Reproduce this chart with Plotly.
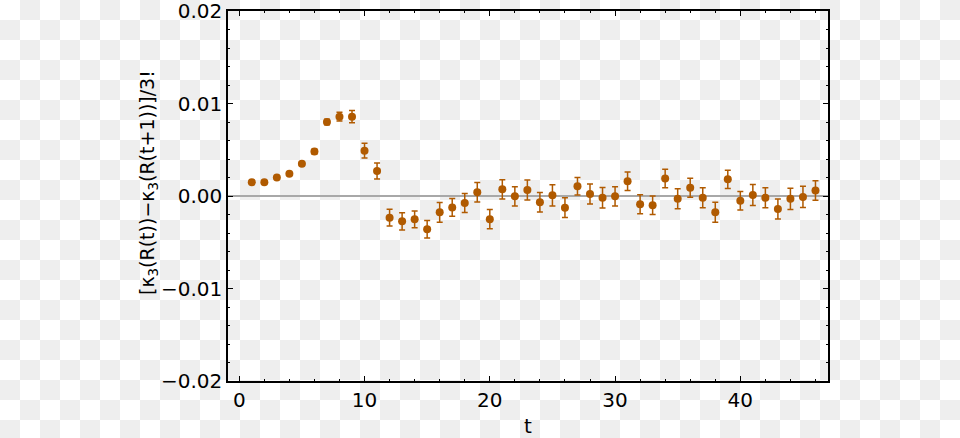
import base64
import plotly.graph_objects as go

# kappa_3 difference per step t
t_vals = list(range(1, 47))
kappa_diff = [
    0.00148, 0.00150, 0.00200, 0.00240, 0.00350, 0.00480, 0.00800, 0.00858,
    0.00858, 0.00490, 0.00270, -0.00234, -0.00274, -0.00252, -0.00360, -0.00177,
    -0.00123, -0.00076, 0.00040, -0.00250, 0.00072, -0.00004, 0.00065, -0.00068,
    0.00007, -0.00126, 0.00105, 0.00022, -0.00018, -0.00004, 0.00160, -0.00090,
    -0.00100, 0.00190, -0.00030, 0.00090, -0.00020, -0.00175, 0.00180, -0.00050,
    0.00010, -0.00020, -0.00140, -0.00030, -0.00010, 0.00060,
]
kappa_err = [
    0.00010, 0.00010, 0.00012, 0.00015, 0.00020, 0.00025, 0.00030, 0.00047,
    0.00065, 0.00080, 0.00087, 0.00090, 0.00094, 0.00090, 0.00095, 0.00108,
    0.00095, 0.00103, 0.00105, 0.00103, 0.00105, 0.00105, 0.00108, 0.00106,
    0.00115, 0.00106, 0.00095, 0.00108, 0.00111, 0.00103, 0.00100, 0.00103,
    0.00099, 0.00100, 0.00108, 0.00103, 0.00108, 0.00108, 0.00099, 0.00100,
    0.00113, 0.00108, 0.00108, 0.00115, 0.00115, 0.00106,
]

y_ticks = [-0.02, -0.01, 0.0, 0.01, 0.02]
y_tick_labels = ["\u22120.02", "\u22120.01", "0.00", "0.01", "0.02"]
x_ticks = [0, 10, 20, 30, 40]
y_title = "[\u03ba<sub>3</sub>(R(t))\u2212\u03ba<sub>3</sub>(R(t+1))]/3!"

W, H = 960, 438
L, R, T, B = 228, 132, 11, 57
PW, PH = W - L - R, H - T - B

# faint transparency checkerboard behind everything
svg = (
    f'<svg xmlns="http://www.w3.org/2000/svg" width="{W}" height="{H}">'
    '<defs><pattern id="c" width="40" height="40" patternUnits="userSpaceOnUse">'
    '<rect width="40" height="40" fill="#ffffff"/>'
    '<rect x="20" y="0" width="20" height="20" fill="#eeeeee"/>'
    '<rect x="0" y="20" width="20" height="20" fill="#eeeeee"/>'
    '</pattern></defs>'
    f'<rect width="{W}" height="{H}" fill="url(#c)"/></svg>'
)
bg_uri = "data:image/svg+xml;base64," + base64.b64encode(svg.encode()).decode()

color = "#b05a00"
font = "DejaVu Sans, sans-serif"

fig = go.Figure()
fig.add_trace(go.Scatter(
    x=t_vals,
    y=kappa_diff,
    mode="markers",
    marker=dict(color=color, size=8),
    error_y=dict(type="data", array=kappa_err, color=color,
                 thickness=1.5, width=3),
    showlegend=False,
))

fig.add_layout_image(dict(
    source=bg_uri, xref="paper", yref="paper",
    x=-L / PW, y=1 + T / PH, sizex=W / PW, sizey=H / PH,
    xanchor="left", yanchor="top", sizing="stretch", layer="below",
))

# y title as a rotated annotation so it can sit a bit above centre like the original
fig.add_annotation(
    text=y_title, textangle=-90, showarrow=False,
    xref="paper", yref="paper", x=(148 - L) / PW, y=1 - (183 - T) / PH,
    xanchor="center", yanchor="middle",
    font=dict(family=font, size=19, color="black"),
)

axis_common = dict(
    showgrid=False,
    automargin=False,
    ticklabeloverflow="allow",
    showline=True, linecolor="black", linewidth=1.5,
    mirror="allticks",
    ticks="inside", ticklen=5, tickwidth=1.3, tickcolor="black",
    tickfont=dict(family=font, size=20, color="black"),
)

fig.update_xaxes(
    range=[-0.9, 47],
    tickvals=x_ticks,
    zeroline=False,
    minor=dict(dtick=2, tick0=0, ticks="inside", ticklen=2.5,
               tickwidth=1.2, tickcolor="black"),
    title=dict(text="t", font=dict(family=font, size=20, color="black"),
               standoff=8),
    **axis_common,
)
fig.update_yaxes(
    range=[-0.02, 0.02],
    tickvals=y_ticks,
    ticktext=y_tick_labels,
    zeroline=True, zerolinecolor="#a8a8a8", zerolinewidth=1.5,
    minor=dict(dtick=0.002, tick0=0, ticks="inside", ticklen=2.5,
               tickwidth=1.2, tickcolor="black"),
    **axis_common,
)

fig.update_layout(
    width=W, height=H,
    margin=dict(l=L, r=R, t=T, b=B),
    paper_bgcolor="rgba(0,0,0,0)",
    plot_bgcolor="rgba(0,0,0,0)",
    font=dict(family=font, color="black"),
)

fig.write_html("out.html",
               config={"displayModeBar": False},
               post_script="document.body.style.margin='0';"
                           "document.body.style.overflow='hidden';")
